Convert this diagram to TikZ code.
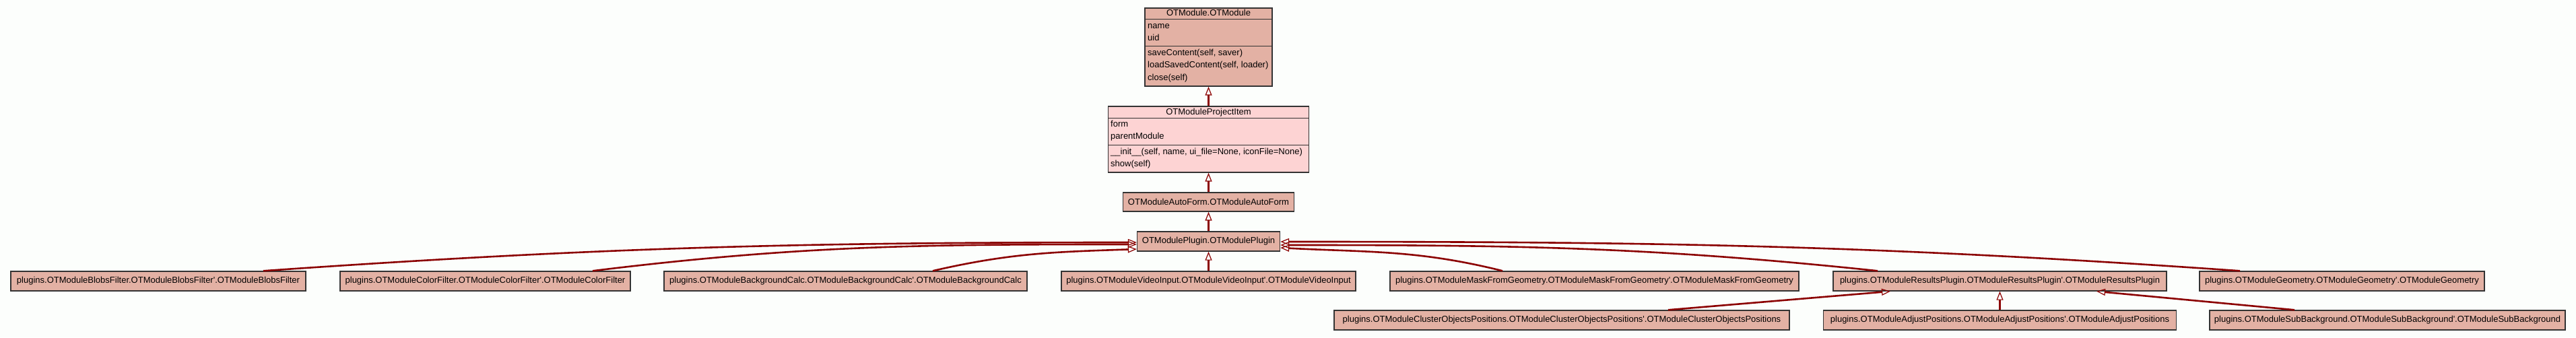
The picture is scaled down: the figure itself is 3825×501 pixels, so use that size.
\documentclass[tikz,border=0pt]{standalone}
\usepackage{fontspec}
\setmainfont{Liberation Sans}
\usepackage{tikz}
\usetikzlibrary{positioning,arrows.meta}
\definecolor{paper}{HTML}{FCFEFC}
\definecolor{salmon}{HTML}{E3B1A4}
\definecolor{blush}{HTML}{FDD3D3}
\definecolor{frame}{HTML}{333333}
\definecolor{maroon}{HTML}{8B0000}
\tikzset{
  classbox/.style={draw=frame, line width=1.4pt, fill=salmon, inner sep=0pt, minimum height=29pt, font=\fontsize{13}{15}\selectfont},
  focusbox/.style={classbox, fill=blush},
  titletext/.style={inner sep=0pt, text height=9.5pt, text depth=2.5pt, font=\fontsize{13}{15}\selectfont},
  membertext/.style={titletext, anchor=west},
  splitline/.style={draw=frame, line width=1.4pt},
  inherits/.style={-{Triangle[open, length=13pt, width=10pt, line width=1.2pt]}, line width=2.6pt, draw=maroon}
}
\begin{document}
\begin{tikzpicture}[x=1pt, y=1pt]
  \fill[paper] (0,0) rectangle (3825,501);
  \useasboundingbox (0,0) rectangle (3825,501);
  \node[classbox, minimum width=189pt, minimum height=116pt] (otmodule) at (1794.5,431) {};
  \node[titletext] (otmodule-title) at (1794.5,480.5) {OTModule.OTModule};
  \node[membertext] (otmodule-name) at (1704,462) {name};
  \node[membertext] (otmodule-uid) at (1704,444) {uid};
  \node[membertext] (otmodule-save) at (1704,422) {saveContent(self, saver)};
  \node[membertext] (otmodule-load) at (1704,404) {loadSavedContent(self, loader)};
  \node[membertext] (otmodule-close) at (1704,385) {close(self)};
  \draw[splitline] ([yshift=-17pt]otmodule.north west) -- ([yshift=-17pt]otmodule.north east);
  \draw[splitline] ([yshift=-57pt]otmodule.north west) -- ([yshift=-57pt]otmodule.north east);
  \node[focusbox, minimum width=298pt, minimum height=98pt] (projitem) at (1794.5,294) {};
  \node[titletext] (projitem-title) at (1794.5,334) {OTModuleProjectItem};
  \node[membertext] (projitem-form) at (1649,316) {form};
  \node[membertext] (projitem-parent) at (1649,298) {parentModule};
  \node[membertext] (projitem-init) at (1649,275) {\_\_init\_\_(self, name, ui\_file=None, iconFile=None)};
  \node[membertext] (projitem-show) at (1649,257) {show(self)};
  \draw[splitline] ([yshift=-18pt]projitem.north west) -- ([yshift=-18pt]projitem.north east);
  \draw[splitline] ([yshift=-58pt]projitem.north west) -- ([yshift=-58pt]projitem.north east);
  \node[classbox, minimum width=254pt, minimum height=28pt] (autoform) at (1794.5,201) {OTModuleAutoForm.OTModuleAutoForm};
  \node[classbox, minimum width=212pt] (plugin) at (1794.5,142.5) {OTModulePlugin.OTModulePlugin};
  \node[classbox, minimum width=438pt] (blobs) at (235,83.5) {plugins.OTModuleBlobsFilter.OTModuleBlobsFilter\textquotesingle.OTModuleBlobsFilter};
  \node[classbox, minimum width=431pt] (colorfilter) at (720.5,83.5) {plugins.OTModuleColorFilter.OTModuleColorFilter\textquotesingle.OTModuleColorFilter};
  \node[classbox, minimum width=539pt] (bgcalc) at (1255.5,83.5) {plugins.OTModuleBackgroundCalc.OTModuleBackgroundCalc\textquotesingle.OTModuleBackgroundCalc};
  \node[classbox, minimum width=437pt] (videoinput) at (1794.5,83.5) {plugins.OTModuleVideoInput.OTModuleVideoInput\textquotesingle.OTModuleVideoInput};
  \node[classbox, minimum width=607pt] (maskgeo) at (2367.5,83.5) {plugins.OTModuleMaskFromGeometry.OTModuleMaskFromGeometry\textquotesingle.OTModuleMaskFromGeometry};
  \node[classbox, minimum width=495pt] (results) at (2969.5,83.5) {plugins.OTModuleResultsPlugin.OTModuleResultsPlugin\textquotesingle.OTModuleResultsPlugin};
  \node[classbox, minimum width=423pt] (geometry) at (3477.5,83.5) {plugins.OTModuleGeometry.OTModuleGeometry\textquotesingle.OTModuleGeometry};
  \node[classbox, minimum width=676pt] (cluster) at (2319,25.5) {plugins.OTModuleClusterObjectsPositions.OTModuleClusterObjectsPositions\textquotesingle.OTModuleClusterObjectsPositions};
  \node[classbox, minimum width=524pt] (adjust) at (2969.5,25.5) {plugins.OTModuleAdjustPositions.OTModuleAdjustPositions\textquotesingle.OTModuleAdjustPositions};
  \node[classbox, minimum width=528pt] (subbg) at (3545,25.5) {plugins.OTModuleSubBackground.OTModuleSubBackground\textquotesingle.OTModuleSubBackground};
  \draw[inherits] (projitem.north) -- (otmodule.south);
  \draw[inherits] (autoform.north) -- (projitem.south);
  \draw[inherits] (plugin.north) -- (autoform.south);
  \draw[inherits] (videoinput.north) -- (plugin.south);
  \draw[inherits] ([xshift=156pt]blobs.north) .. controls +(4:500pt) and +(180:500pt) .. ([yshift=-1.5pt]plugin.west);
  \draw[inherits] ([xshift=159.5pt]colorfilter.north) .. controls +(7:315pt) and +(180:315pt) .. ([yshift=-4.5pt]plugin.west);
  \draw[inherits] ([xshift=129.5pt]bgcalc.north) .. controls +(13:120pt) and +(182:120pt) .. ([yshift=-11.5pt]plugin.west);
  \draw[inherits] ([xshift=-136.5pt]maskgeo.north) .. controls +(166:130pt) and +(-3:130pt) .. ([yshift=-9.5pt]plugin.east);
  \draw[inherits] ([xshift=-181.5pt]results.north) .. controls +(174:345pt) and +(0:345pt) .. ([yshift=-5.5pt]plugin.east);
  \draw[inherits] ([xshift=-151.5pt]geometry.north) .. controls +(176:555pt) and +(0:555pt) .. ([yshift=-0.5pt]plugin.east);
  \draw[inherits] ([xshift=158pt]cluster.north) -- ([xshift=-162.5pt]results.south);
  \draw[inherits] (adjust.north) -- (results.south);
  \draw[inherits] ([xshift=-138pt]subbg.north) -- ([xshift=143.5pt]results.south);
\end{tikzpicture}
\end{document}
